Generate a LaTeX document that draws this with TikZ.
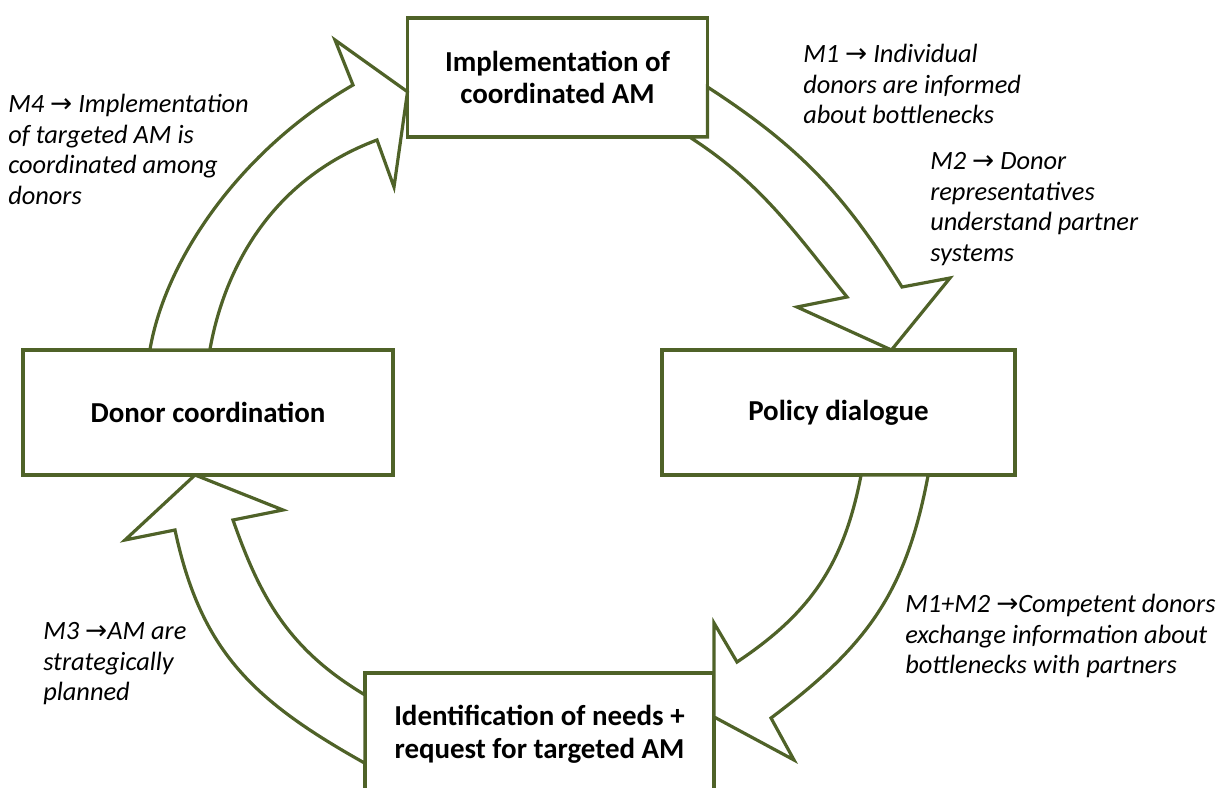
\documentclass[tikz,border=0pt]{standalone}
\usepackage{fontspec}
\setmainfont{Carlito}
\newfontfamily\symfont{DejaVu Sans}
\usepackage{xcolor}
\usetikzlibrary{calc}
\usetikzlibrary{positioning}

\definecolor{amgreen}{RGB}{79,98,40}
\newcommand{\ra}{{\symfont\char"2192}}

\begin{document}
\begin{tikzpicture}[x=0.75pt,y=-0.75pt]
	%\draw[help lines] (0,0) grid (1231,788);
	
	\tikzstyle{bnode} = [draw=amgreen,line width=2.6pt,fill=white,outer sep=0pt,align=center,font=\fontsize{21.7}{24.5}\selectfont\bfseries]
	\tikzstyle{mnode} = [anchor=north west,inner sep=0pt,align=left,font=\fontsize{19.8}{23}\selectfont\itshape]
	\tikzstyle{barrow} = [draw=amgreen,line width=2.4pt,fill=white,line join=miter]
	
\useasboundingbox (0,0) rectangle (1231,788);
\clip (0,0) rectangle (1231,788);

\node[bnode,minimum width=225pt,minimum height=89.25pt] (impl) at (557.5,77.5) {Implementation of\\coordinated AM};
\node[bnode,minimum width=277.5pt,minimum height=93.75pt] (donor) at (208,412.5) {Donor coordination};
\node[bnode,minimum width=264.75pt,minimum height=93.75pt] (policy) at (838.5,412.5) {Policy dialogue};
\node[bnode,minimum width=261.75pt,minimum height=91.5pt] (ident) at (539.5,734) {Identification of needs +\\request for targeted AM};

% block arrows
\draw[barrow] ($(donor.north west)!0.343!(donor.north east)$) .. controls (165,260) and (240,150) .. (353,85) -- (335,40) -- ($(impl.north west)!0.62!(impl.south west)$) -- (394,187) -- (377,140) .. controls (270,180) and (224,270) .. ($(donor.north west)!0.505!(donor.north east)$) -- cycle;
\draw[barrow] ($(impl.north east)!0.58!(impl.south east)$) .. controls (800,147) and (844,194) .. (902,287) -- (950,278) -- ($(policy.north west)!0.65!(policy.north east)$) -- (797,307) -- (847,297) .. controls (794,231) and (761,183) .. ($(impl.south west)!0.94!(impl.south east)$) -- (impl.south east) -- cycle;
\draw[barrow] ($(policy.south west)!0.754!(policy.south east)$) .. controls (906,593) and (867,646) .. (771,718) -- (794,760) -- ($(ident.north east)!0.36!(ident.south east)$) -- (714,623) -- (737,662) .. controls (812,612) and (844,563) .. ($(policy.south west)!0.564!(policy.south east)$) -- cycle;
\draw[barrow] ($(ident.north west)!0.74!(ident.south west)$) .. controls (254,701) and (201,652) .. (175,530) -- (125,540) -- ($(donor.south west)!0.465!(donor.south east)$) -- (283,510) -- (233,520) .. controls (261,600) and (290,650) .. ($(ident.north west)!0.18!(ident.south west)$) -- cycle;

\node[mnode] (m4) at (8,94) {M4 \ra{} Implementation\\of targeted AM is\\coordinated among\\donors};
\node[mnode] (m1) at (803,44) {M1 \ra{} Individual\\donors are informed\\about bottlenecks};
\node[mnode] (m2) at (930,152) {M2 \ra{} Donor\\representatives\\understand partner\\systems};
\node[mnode] (m12) at (905,594) {M1+M2 \ra{}Competent donors\\exchange information about\\bottlenecks with partners};
\node[mnode] (m3) at (43,622) {M3 \ra{}AM are\\strategically\\planned};
\end{tikzpicture}
\end{document}
